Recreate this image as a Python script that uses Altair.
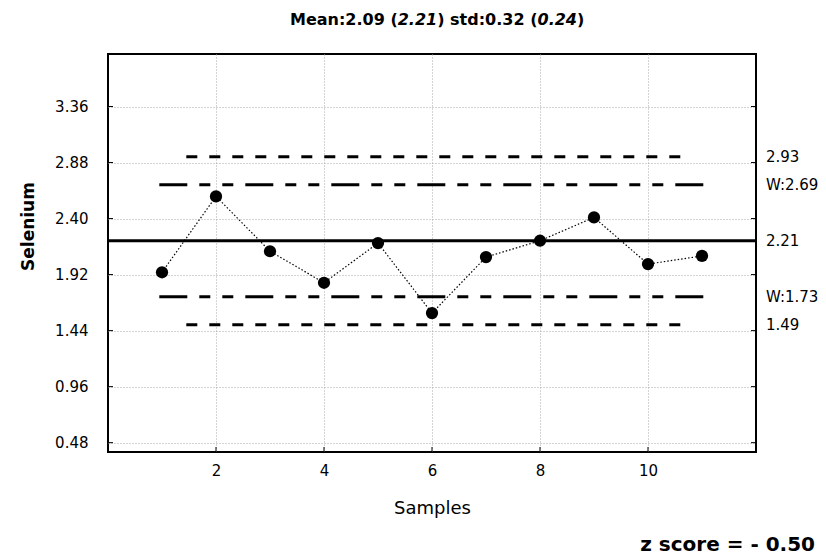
import altair as alt
import pandas as pd

# ---- data ----
samples = list(range(1, 12))
selenium = [1.94, 2.59, 2.12, 1.85, 2.19, 1.59, 2.07, 2.21, 2.41, 2.01, 2.08]
y_ticks = [0.48, 0.96, 1.44, 1.92, 2.40, 2.88, 3.36]
x_ticks = [2, 4, 6, 8, 10]
mean_value = 2.21
warn_limits = [2.69, 1.73]
ctrl_limits = [2.93, 1.49]
limit_values = [2.93, 2.69, 2.21, 1.73, 1.49]
limit_labels = ["2.93", "W:2.69", "2.21", "W:1.73", "1.49"]
title_parts = ["Mean:2.09 (", "2.21", ") std:0.32 (", "0.24", ")"]
z_text = "z score = - 0.50"

# extent of the limit lines along the sample axis
mean_span = [0, 12]
warn_span = [0.95, 11.05]
ctrl_span = [1.45, 10.75]

W, H = 648, 398
FONT = "DejaVu Sans"

xs = alt.Scale(domain=[0, 12], nice=False, zero=False)
ys = alt.Scale(domain=[0.40, 3.81], nice=False, zero=False)

df = pd.DataFrame({"Samples": samples, "Selenium": selenium})

x_axis = alt.Axis(values=x_ticks, format="d", title="Samples", grid=True,
                  gridDash=[1, 2], gridColor="#a8a8a8", gridOpacity=1,
                  ticks=False, domain=False, labelPadding=11,
                  labelFont=FONT, labelFontSize=15, labelColor="black",
                  titleFont=FONT, titleFontSize=18, titleFontWeight="normal",
                  titleColor="black", titleY=61, titleBaseline="alphabetic")
y_axis = alt.Axis(values=y_ticks, format=".2f", title="Selenium", grid=True,
                  gridDash=[1, 2], gridColor="#a8a8a8", gridOpacity=1,
                  ticks=False, domain=False, labelPadding=20,
                  labelFont=FONT, labelFontSize=15, labelColor="black",
                  titleFont=FONT, titleFontSize=17, titleFontWeight="bold",
                  titleColor="black", titleAngle=270, titleX=-71, titleY=172,
                  titleAlign="center", titleBaseline="bottom")

X = alt.X("Samples:Q", scale=xs, axis=x_axis)
Y = alt.Y("Selenium:Q", scale=ys, axis=y_axis)

line = alt.Chart(df).mark_line(color="black", strokeWidth=1.2, strokeDash=[1.5, 2]).encode(x=X, y=Y)
pts = alt.Chart(df).mark_circle(size=150, color="black", opacity=1).encode(x=X, y=Y)

def hrule(values, span, dash, width=3):
    d = pd.DataFrame({"Selenium": values, "Samples": [span[0]] * len(values),
                      "x_end": [span[1]] * len(values)})
    m = alt.Chart(d).mark_rule(color="black", strokeWidth=width, strokeCap="butt",
                               **({"strokeDash": dash} if dash else {}))
    return m.encode(x=alt.X("Samples:Q", scale=xs), x2="x_end:Q",
                    y=alt.Y("Selenium:Q", scale=ys))

mean_rule = hrule([mean_value], mean_span, None, 3)
warn_rule = hrule(warn_limits, warn_span, [28, 12, 11, 12, 11, 12], 3)
ctrl_rule = hrule(ctrl_limits, ctrl_span, [11, 12], 3)

# inner tick marks on the frame
yt = pd.DataFrame({"Selenium": y_ticks})
xt = pd.DataFrame({"Samples": x_ticks})
tick_l = alt.Chart(yt).mark_rule(color="black").encode(
    y=alt.Y("Selenium:Q", scale=ys), x=alt.value(0), x2=alt.value(5))
tick_r = alt.Chart(yt).mark_rule(color="black").encode(
    y=alt.Y("Selenium:Q", scale=ys), x=alt.value(W - 5), x2=alt.value(W))
tick_b = alt.Chart(xt).mark_rule(color="black").encode(
    x=alt.X("Samples:Q", scale=xs), y=alt.value(H - 5), y2=alt.value(H))

# limit labels on the right
lab = pd.DataFrame({"Selenium": limit_values, "label": limit_labels})
labels = alt.Chart(lab).mark_text(align="left", baseline="middle", font=FONT,
                                  fontSize=15, color="black").encode(
    y=alt.Y("Selenium:Q", scale=ys), x=alt.value(W + 10), text="label:N")

# title made of normal and italic pieces
title_x = [182, 289.7, 329.2, 429.5, 469]
title_layers = []
for i, (part, tx) in enumerate(zip(title_parts, title_x)):
    title_layers.append(
        alt.Chart(pd.DataFrame({"t": [part]})).mark_text(
            align="left", baseline="alphabetic", font=FONT, fontSize=16,
            fontWeight="bold", fontStyle="italic" if i in (1, 3) else "normal",
            color="black").encode(x=alt.value(tx), y=alt.value(-29), text="t:N"))

ztxt = alt.Chart(pd.DataFrame({"t": [z_text]})).mark_text(
    align="right", baseline="alphabetic", font=FONT, fontSize=20,
    fontWeight="bold", color="black").encode(x=alt.value(707), y=alt.value(497), text="t:N")

chart = alt.layer(
    line, mean_rule, warn_rule, ctrl_rule, pts, tick_l, tick_r, tick_b, labels, ztxt,
    *title_layers
).properties(
    width=W, height=H,
    padding={"left": 100, "top": 46, "right": 62, "bottom": 106},
    autosize=alt.AutoSizeParams(type="none"),
    background="white",
).configure_view(stroke="black", strokeWidth=2)

chart.save("out.html", embed_options={"renderer": "svg", "actions": False})
